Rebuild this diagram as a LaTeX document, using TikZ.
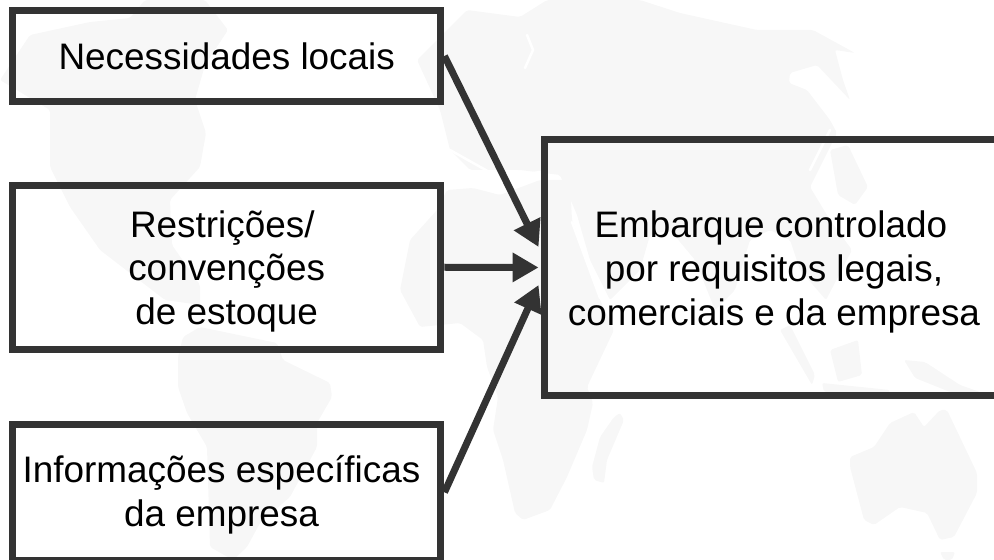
\documentclass[tikz,border=0pt]{standalone}
\usepackage{fontspec}
\setmainfont{Liberation Sans}
\usepackage{color}
\usetikzlibrary{arrows.meta}
\definecolor{boxline}{HTML}{333333}
\definecolor{landgray}{HTML}{F7F7F7}
\tikzset{
	box/.style={draw=boxline,line width=0.14cm,align=center,font=\fontsize{21}{25}\selectfont,inner sep=0pt},
	link/.style={draw=boxline,line width=0.14cm,-{Triangle[length=0.52cm,width=0.56cm]}},
	land/.style={fill=landgray,rounded corners=0.04cm},
	gap/.style={draw=white,line width=0.05cm,line cap=round}
}
\begin{document}
\begin{tikzpicture}[x=0.02cm,y=-0.02cm]
	\useasboundingbox (0,0) rectangle (994,560);
	% world map behind the boxes
	\fill[land] (0,80) -- (30,35) -- (90,22) -- (130,18) -- (145,0) -- (205,0) -- (228,30) -- (205,65) -- (195,100) -- (206,133) -- (200,167) -- (170,200) -- (172,245) -- (200,285) -- (200,305) -- (165,300) -- (100,250) -- (70,207) -- (50,167) -- (50,110) -- cycle;
	\fill[land] (183,337) -- (200,327) -- (277,343) -- (283,360) -- (330,383) -- (332,397) -- (317,423) -- (317,447) -- (290,497) -- (260,523) -- (247,547) -- (233,560) -- (210,547) -- (207,447) -- (187,413) -- (178,387) -- (178,357) -- cycle;
	\fill[land] (417,60) -- (437,40) -- (467,10) -- (520,17) -- (547,0) -- (640,0) -- (680,13) -- (757,30) -- (813,30) -- (855,53) -- (835,50) -- (843,80) -- (850,100) -- (817,65) -- (790,73) -- (789,83) -- (807,90) -- (830,120) -- (837,133) -- (810,187) -- (830,220) -- (852,250) -- (826,300) -- (800,270) -- (790,240) -- (770,230) -- (750,240) -- (735,290) -- (715,310) -- (695,260) -- (670,230) -- (650,235) -- (640,270) -- (610,300) -- (590,260) -- (577,215) -- (560,175) -- (520,170) -- (470,170) -- (450,150) -- (440,110) -- cycle;
	\fill[land] (400,290) -- (410,240) -- (437,210) -- (447,190) -- (473,188) -- (500,195) -- (540,180) -- (570,180) -- (572,220) -- (600,300) -- (614,330) -- (587,387) -- (593,403) -- (587,430) -- (567,477) -- (550,510) -- (523,520) -- (515,513) -- (503,460) -- (493,430) -- (498,397) -- (487,367) -- (483,340) -- (460,323) -- (420,327) -- cycle;
	\fill[land] (620,413) -- (624,420) -- (607,460) -- (604,483) -- (594,480) -- (592,467) -- (600,437) -- (614,417) -- cycle;
	\fill[land] (850,457) -- (874,447) -- (890,423) -- (914,412) -- (924,427) -- (940,410) -- (947,410) -- (977,473) -- (977,493) -- (954,537) -- (940,540) -- (927,513) -- (900,507) -- (874,525) -- (864,520) -- (850,467) -- cycle;
	\fill[land] (940,552) -- (955,552) -- (952,560) -- (944,560) -- cycle;
	\fill[land] (780,330) -- (790,325) -- (815,375) -- (812,385) -- cycle;
	\fill[land] (830,350) -- (858,340) -- (862,375) -- (838,382) -- cycle;
	\fill[land] (822,383) -- (890,390) -- (888,396) -- (824,392) -- cycle;
	\fill[land] (904,360) -- (925,362) -- (960,385) -- (980,392) -- (950,392) -- (915,378) -- cycle;
	\fill[land] (830,150) -- (848,145) -- (868,187) -- (855,205) -- (838,195) -- cycle;
	\draw[gap] (527,35) -- (533,50) -- (525,68);
	\draw[gap] (572,222) -- (600,298);
	\draw[gap] (810,170) -- (830,130);
	\draw[gap] (450,150) -- (500,178) -- (540,172);
	% boxes and arrows
	\node[box,minimum width=8.57cm,minimum height=1.84cm] (need) at (226.75,56) {Necessidades locais};
	\node[box,minimum width=8.57cm,minimum height=3.29cm] (restr) at (226.75,267.25) {\rule{0pt}{20pt}Restrições/\hspace*{5pt}\\convenções\hspace*{8.5pt}\\de estoque};
	\node[box,minimum width=8.57cm,minimum height=2.73cm] (info) at (226.75,492.3) {\rule{0pt}{18pt}Informações específicas\hspace*{6pt}\\da empresa\hspace*{6pt}};
	\node[box,minimum width=9.18cm,minimum height=5.14cm] (embarque) at (774,267.5) {\rule{0pt}{20pt}Embarque controlado\hspace*{3.5pt}\\por requisitos legais,\hspace*{3.5pt}\\comerciais e da empresa};
	\draw[link] (need.east) -- ([xshift=-0.05cm,yshift=0.41cm]embarque.west);
	\draw[link] (restr.east) -- ([xshift=-0.05cm]embarque.west);
	\draw[link] (info.east) -- ([xshift=-0.05cm,yshift=-0.35cm]embarque.west);
\end{tikzpicture}
\end{document}
